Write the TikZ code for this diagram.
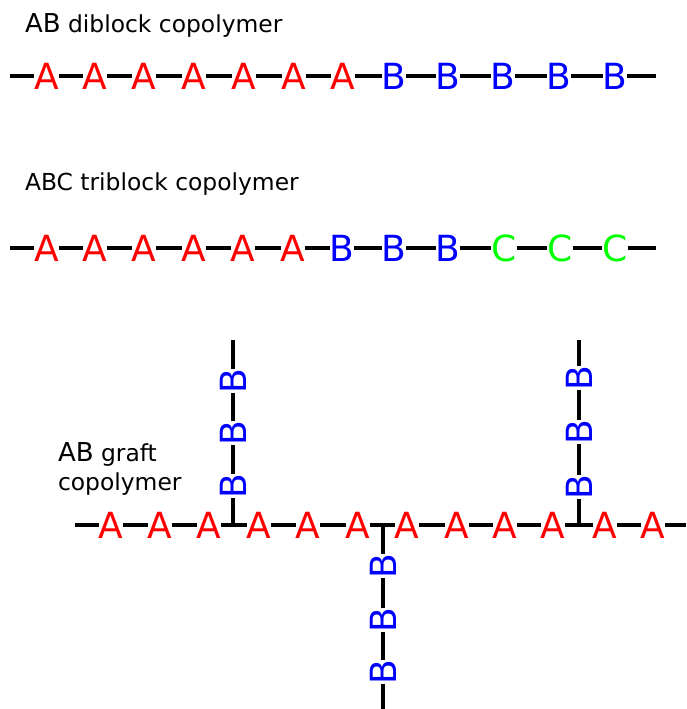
\documentclass[tikz,border=0pt]{standalone}
\usepackage{fontspec}
\setmainfont{DejaVu Sans}
\definecolor{monoA}{RGB}{255,0,0}
\definecolor{monoB}{RGB}{0,0,255}
\definecolor{monoC}{RGB}{0,255,0}
\newcommand{\bigAB}{{\fontsize{26}{29}\selectfont AB}}
\begin{document}
\begin{tikzpicture}[x=1pt,y=-1pt,
  mono/.style={inner sep=0pt,outer sep=0pt,font=\fontsize{36}{36}\selectfont,text height=26.2pt,text depth=0pt},
  ma/.style={mono,text=monoA},
  mb/.style={mono,text=monoB},
  mc/.style={mono,text=monoC},
  vb/.style={mb,rotate=90},
  bond/.style={line width=3.8pt,black},
  vbond/.style={bond,line width=3.6pt},
  title/.style={inner sep=0pt,outer sep=0pt,anchor=base west,font=\fontsize{23.4}{29}\selectfont}
]
\useasboundingbox (0,0) rectangle (686,709);

% ---------- AB diblock ----------
\node[title] (t1) at (25,33) {\bigAB{} diblock copolymer};
\coordinate (d0) at (10,76);
\coordinate (dend) at (656,76);
\foreach \x [count=\i] in {46.5,95,144,194,244,294,343}
  \node[ma] (da\i) at (\x,76) {A};
\foreach \x [count=\i] in {394,448,503,559,615}
  \node[mb] (db\i) at (\x,76) {B};
\draw[bond] (d0) -- (da1.west);
\foreach \i [evaluate=\i as \j using int(\i+1)] in {1,...,6}
  \draw[bond] (da\i.east) -- (da\j.west);
\draw[bond] (da7.east) -- (db1.west);
\foreach \i [evaluate=\i as \j using int(\i+1)] in {1,...,4}
  \draw[bond] (db\i.east) -- (db\j.west);
\draw[bond] (db5.east) -- (dend);

% ---------- ABC triblock ----------
\node[title] (t2) at (25,190) {ABC triblock copolymer};
\coordinate (r0) at (10,248);
\coordinate (rend) at (656,248);
\foreach \x [count=\i] in {46.5,95,144,194,243,293}
  \node[ma] (ra\i) at (\x,248) {A};
\foreach \x [count=\i] in {342,394,448}
  \node[mb] (rb\i) at (\x,248) {B};
\foreach \x [count=\i] in {504,560,615}
  \node[mc] (rc\i) at (\x,248) {C};
\draw[bond] (r0) -- (ra1.west);
\foreach \i [evaluate=\i as \j using int(\i+1)] in {1,...,5}
  \draw[bond] (ra\i.east) -- (ra\j.west);
\draw[bond] (ra6.east) -- (rb1.west);
\draw[bond] (rb1.east) -- (rb2.west);
\draw[bond] (rb2.east) -- (rb3.west);
\draw[bond] (rb3.east) -- (rc1.west);
\draw[bond] (rc1.east) -- (rc2.west);
\draw[bond] (rc2.east) -- (rc3.west);
\draw[bond] (rc3.east) -- (rend);

% ---------- AB graft ----------
\node[title] (t3a) at (58,461) {\bigAB{} graft};
\node[title] (t3b) at (58,490) {copolymer};
\coordinate (g0) at (75,525);
\coordinate (gend) at (686,525);
\coordinate (j1) at (233,525);
\coordinate (j2) at (383,525);
\coordinate (j3) at (579,525);
\foreach \x [count=\i] in {111,160,209,259,308,358,407,457,505,553,605,653}
  \node[ma] (ga\i) at (\x,525) {A};
\draw[bond] (g0) -- (ga1.west);
\draw[bond] (ga1.east) -- (ga2.west);
\draw[bond] (ga2.east) -- (ga3.west);
\draw[bond] (ga3.east) -- (ga4.west);
\draw[bond] (ga4.east) -- (ga5.west);
\draw[bond] (ga5.east) -- (ga6.west);
\draw[bond] (ga6.east) -- (ga7.west);
\draw[bond] (ga7.east) -- (ga8.west);
\draw[bond] (ga8.east) -- (ga9.west);
\draw[bond] (ga9.east) -- (ga10.west);
\draw[bond] (ga10.east) -- (ga11.west);
\draw[bond] (ga11.east) -- (ga12.west);
\draw[bond] (ga12.east) -- (gend);

% branch 1 (up)
\coordinate (p1top) at (233,340);
\node[vb] (p1b1) at (233,486) {B};
\node[vb] (p1b2) at (233,433) {B};
\node[vb] (p1b3) at (233,381) {B};
\draw[vbond] (j1) -- (p1b1.west);
\draw[vbond] (p1b1.east) -- (p1b2.west);
\draw[vbond] (p1b2.east) -- (p1b3.west);
\draw[vbond] (p1b3.east) -- (p1top);

% branch 2 (down)
\coordinate (p2bot) at (383,709);
\node[vb] (p2b1) at (383,566) {B};
\node[vb] (p2b2) at (383,620) {B};
\node[vb] (p2b3) at (383,672) {B};
\draw[vbond] (j2) -- (p2b1.east);
\draw[vbond] (p2b1.west) -- (p2b2.east);
\draw[vbond] (p2b2.west) -- (p2b3.east);
\draw[vbond] (p2b3.west) -- (p2bot);

% branch 3 (up)
\coordinate (p3top) at (579,340);
\node[vb] (p3b1) at (579,487) {B};
\node[vb] (p3b2) at (579,432) {B};
\node[vb] (p3b3) at (579,378) {B};
\draw[vbond] (j3) -- (p3b1.west);
\draw[vbond] (p3b1.east) -- (p3b2.west);
\draw[vbond] (p3b2.east) -- (p3b3.west);
\draw[vbond] (p3b3.east) -- (p3top);
\end{tikzpicture}
\end{document}
